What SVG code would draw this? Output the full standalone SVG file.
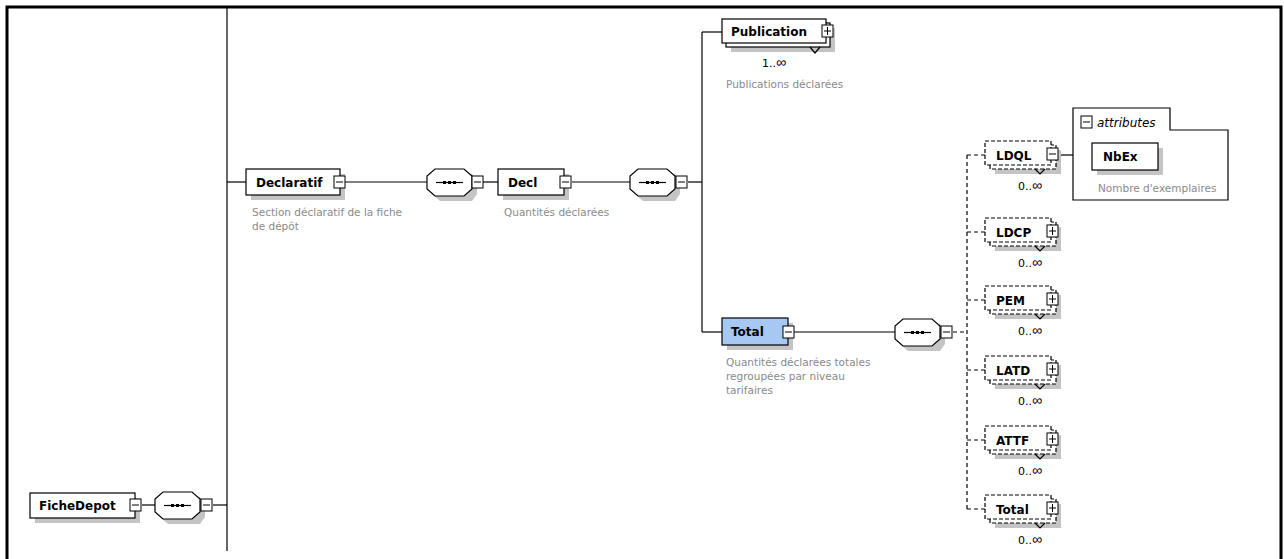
<svg xmlns="http://www.w3.org/2000/svg" width="1284" height="559" viewBox="0 0 1284 559">
<defs>
<style>
.box{fill:#fff;stroke:#000;stroke-width:1.2}
.dbox{fill:#fff;stroke:#000;stroke-width:1.2;stroke-dasharray:4 2}
.sh{fill:#c4c4c4}
.ln{stroke:#000;stroke-width:1.2;fill:none}
.dl{stroke:#000;stroke-width:1.2;fill:none;stroke-dasharray:4 3}
.nm{font-family:"DejaVu Sans",sans-serif;font-weight:bold;font-size:12px;fill:#000}
.ds{font-family:"DejaVu Sans",sans-serif;font-size:10.5px;fill:#8a8a8a}
.oc{font-family:"DejaVu Sans",sans-serif;font-size:11px;fill:#000}
.inf{font-family:"Liberation Sans",sans-serif;font-size:14px}
.ic{fill:#fff;stroke:#000;stroke-width:1}
</style>
<g id="seq">
<path class="sh" d="M13,5 H45 L50,12 V25 L45,32 H13 L5,25 V12 Z"/>
<path d="M8,0 H37 L45,7 V20 L37,27 H8 L0,20 V7 Z" fill="#fff" stroke="#000" stroke-width="1.2"/>
<line x1="9" y1="13.5" x2="36" y2="13.5" stroke="#000" stroke-width="1.2"/>
<rect x="16" y="12" width="3" height="3" fill="#000"/>
<rect x="21" y="12" width="3" height="3" fill="#000"/>
<rect x="26" y="12" width="3" height="3" fill="#000"/>
</g>
<g id="minus"><rect class="ic" x="0" y="0" width="11" height="12"/><line x1="2" y1="6" x2="9" y2="6" stroke="#000"/></g>
<g id="plus"><rect class="ic" x="0" y="0" width="11" height="12"/><line x1="2" y1="6" x2="9" y2="6" stroke="#000"/><line x1="5.5" y1="2" x2="5.5" y2="10" stroke="#000"/></g>
</defs>
<rect width="1284" height="559" fill="#fff"/>
<g id="frame">
<path d="M7,559 V7 H1281 V559" fill="none" stroke="#000" stroke-width="3"/>
</g>
<g id="connectors">
<line class="ln" x1="227" y1="7" x2="227" y2="551"/>
<line class="ln" x1="142" y1="505" x2="155" y2="505"/>
<line class="ln" x1="213" y1="505" x2="227" y2="505"/>
<line class="ln" x1="227" y1="182" x2="246" y2="182"/>
<line class="ln" x1="345" y1="182" x2="427" y2="182"/>
<line class="ln" x1="483" y1="182" x2="498" y2="182"/>
<line class="ln" x1="572" y1="182" x2="630" y2="182"/>
<line class="ln" x1="688" y1="182" x2="702" y2="182"/>
<line class="ln" x1="702" y1="32" x2="702" y2="332"/>
<line class="ln" x1="702" y1="32" x2="722" y2="32"/>
<line class="ln" x1="702" y1="332" x2="722" y2="332"/>
<line class="ln" x1="794" y1="332" x2="895" y2="332"/>
<line class="dl" x1="953" y1="332" x2="967" y2="332"/>
<line class="dl" x1="967" y1="155" x2="967" y2="509"/>
<line class="dl" x1="967" y1="155" x2="985" y2="155"/>
<line class="dl" x1="967" y1="232" x2="985" y2="232"/>
<line class="dl" x1="967" y1="300" x2="985" y2="300"/>
<line class="dl" x1="967" y1="370" x2="985" y2="370"/>
<line class="dl" x1="967" y1="440" x2="985" y2="440"/>
<line class="dl" x1="967" y1="509" x2="985" y2="509"/>
<line class="ln" x1="1058" y1="155" x2="1073" y2="155"/>
</g>
<g id="FicheDepot">
<rect class="sh" x="35" y="498" width="105" height="25"/>
<rect class="box" x="30" y="493" width="105" height="25"/>
<text class="nm" x="39" y="510">FicheDepot</text>
<use href="#minus" x="130" y="499"/>
</g>
<g id="seq0"><use href="#seq" x="155" y="492"/><use href="#minus" x="201" y="499"/></g>
<g id="Declaratif">
<rect class="sh" x="251" y="174" width="94" height="26"/>
<rect class="box" x="246" y="169" width="94" height="26"/>
<text class="nm" x="256" y="187">Declaratif</text>
<use href="#minus" x="334" y="176"/>
<text class="ds" x="252" y="216">Section déclaratif de la fiche</text>
<text class="ds" x="252" y="230">de dépôt</text>
</g>
<g id="seq1"><use href="#seq" x="427" y="169"/><use href="#minus" x="472" y="176"/></g>
<g id="Decl">
<rect class="sh" x="503" y="174" width="66" height="26"/>
<rect class="box" x="498" y="169" width="66" height="26"/>
<text class="nm" x="508" y="187">Decl</text>
<use href="#minus" x="560" y="176"/>
<text class="ds" x="504" y="216">Quantités déclarées</text>
</g>
<g id="seq2"><use href="#seq" x="630" y="169"/><use href="#minus" x="676" y="176"/></g>
<g id="Publication">
<rect class="sh" x="731" y="28" width="104" height="24"/>
<rect class="box" x="726" y="23" width="104" height="24"/>
<rect class="box" x="722" y="19" width="104" height="24"/>
<text class="nm" x="731" y="36">Publication</text>
<use href="#plus" x="822" y="25"/>
<polyline class="ln" points="810,47 815,53 820,47"/>
<text class="oc" x="762" y="67">1..<tspan class="inf">∞</tspan></text>
<text class="ds" x="726" y="88">Publications déclarées</text>
</g>
<g id="Total">
<rect class="sh" x="727" y="323" width="66" height="27"/>
<rect x="722" y="318" width="66" height="27" fill="#a6c8f2" stroke="#000" stroke-width="1.2"/>
<text class="nm" x="731" y="336">Total</text>
<use href="#minus" x="783" y="326"/>
<text class="ds" x="726" y="366">Quantités déclarées totales</text>
<text class="ds" x="726" y="380">regroupées par niveau</text>
<text class="ds" x="726" y="394">tarifaires</text>
</g>
<g id="seq3"><use href="#seq" x="895" y="319"/><use href="#minus" x="941" y="326"/></g>
<g id="LDQL">
<rect class="sh" x="995" y="150" width="66" height="24"/>
<rect class="dbox" x="990" y="145" width="66" height="24"/>
<rect class="dbox" x="985" y="141" width="66" height="24"/>
<text class="nm" x="996" y="160">LDQL</text>
<use href="#minus" x="1047" y="148"/>
<polyline class="ln" points="1035,169 1040,174 1045,169"/>
<text class="oc" x="1018" y="190">0..<tspan class="inf">∞</tspan></text>
</g>
<g id="LDCP">
<rect class="sh" x="995" y="227" width="66" height="24"/>
<rect class="dbox" x="990" y="222" width="66" height="24"/>
<rect class="dbox" x="985" y="218" width="66" height="24"/>
<text class="nm" x="996" y="237">LDCP</text>
<use href="#plus" x="1047" y="225"/>
<polyline class="ln" points="1035,246 1040,251 1045,246"/>
<text class="oc" x="1018" y="267">0..<tspan class="inf">∞</tspan></text>
</g>
<g id="PEM">
<rect class="sh" x="995" y="295" width="66" height="24"/>
<rect class="dbox" x="990" y="290" width="66" height="24"/>
<rect class="dbox" x="985" y="286" width="66" height="24"/>
<text class="nm" x="996" y="305">PEM</text>
<use href="#plus" x="1047" y="293"/>
<polyline class="ln" points="1035,314 1040,319 1045,314"/>
<text class="oc" x="1018" y="335">0..<tspan class="inf">∞</tspan></text>
</g>
<g id="LATD">
<rect class="sh" x="995" y="365" width="66" height="24"/>
<rect class="dbox" x="990" y="360" width="66" height="24"/>
<rect class="dbox" x="985" y="356" width="66" height="24"/>
<text class="nm" x="996" y="375">LATD</text>
<use href="#plus" x="1047" y="363"/>
<polyline class="ln" points="1035,384 1040,389 1045,384"/>
<text class="oc" x="1018" y="405">0..<tspan class="inf">∞</tspan></text>
</g>
<g id="ATTF">
<rect class="sh" x="995" y="435" width="66" height="24"/>
<rect class="dbox" x="990" y="430" width="66" height="24"/>
<rect class="dbox" x="985" y="426" width="66" height="24"/>
<text class="nm" x="996" y="445">ATTF</text>
<use href="#plus" x="1047" y="433"/>
<polyline class="ln" points="1035,454 1040,459 1045,454"/>
<text class="oc" x="1018" y="475">0..<tspan class="inf">∞</tspan></text>
</g>
<g id="Total2">
<rect class="sh" x="995" y="504" width="66" height="24"/>
<rect class="dbox" x="990" y="499" width="66" height="24"/>
<rect class="dbox" x="985" y="495" width="66" height="24"/>
<text class="nm" x="996" y="514">Total</text>
<use href="#plus" x="1047" y="502"/>
<polyline class="ln" points="1035,523 1040,528 1045,523"/>
<text class="oc" x="1018" y="544">0..<tspan class="inf">∞</tspan></text>
</g>
<g id="attributes">
<path d="M1073,108 H1170 V130 H1228 V200 H1073 Z" fill="#fff" stroke="#000" stroke-width="1.2"/>
<use href="#minus" x="1081" y="116"/>
<text x="1097" y="127" font-family="DejaVu Sans, sans-serif" font-style="italic" font-size="12">attributes</text>
</g>
<g id="NbEx">
<rect class="sh" x="1097" y="148" width="66" height="27"/>
<rect class="box" x="1092" y="143" width="66" height="27"/>
<text class="nm" x="1103" y="161">NbEx</text>
<text class="ds" x="1098" y="192">Nombre d'exemplaires</text>
</g>
</svg>
